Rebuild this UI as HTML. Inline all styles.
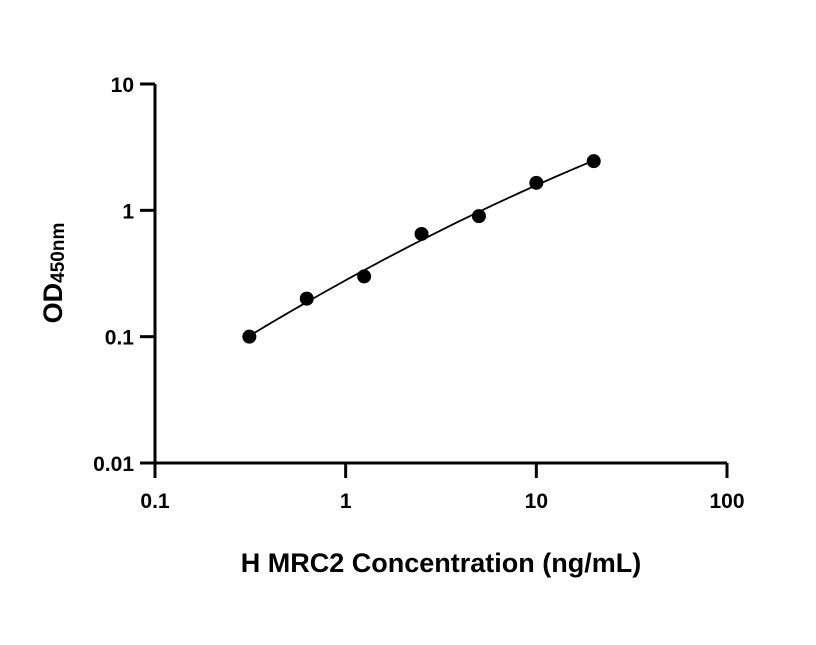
<!DOCTYPE html>
<html><head><meta charset="utf-8"><style>
body{margin:0;background:#fff;width:816px;height:640px;overflow:hidden}
text{font-family:"Liberation Sans",sans-serif;font-weight:bold;fill:#000}
</style></head><body>
<svg id="chart" width="816" height="640" viewBox="0 0 816 640" xmlns="http://www.w3.org/2000/svg">
<g id="axes"></g>
<g id="marks"></g>
<text x="441" y="572" font-size="27" text-anchor="middle">H MRC2 Concentration (ng/mL)</text>
<text transform="translate(62,273) rotate(-90)" font-size="27" text-anchor="middle">OD<tspan font-size="19" dy="2">450nm</tspan></text>
</svg>
<script>
const concentrations = [0.3125, 0.625, 1.25, 2.5, 5, 10, 20];
const odValues = [0.1, 0.2, 0.3, 0.65, 0.9, 1.65, 2.45];
const xTicks = [0.1, 1, 10, 100];
const xTickLabels = ["0.1", "1", "10", "100"];
const yTicks = [0.01, 0.1, 1, 10];
const yTickLabels = ["0.01", "0.1", "1", "10"];

const NS = "http://www.w3.org/2000/svg";
const X0 = 155, X1 = 727, Y0 = 463, Y1 = 84;
function xs(v){ return X0 + (Math.log10(v) - Math.log10(0.1)) / 3 * (X1 - X0); }
function ys(v){ return Y0 - (Math.log10(v) - Math.log10(0.01)) / 3 * (Y0 - Y1); }
function mk(tag, attrs, parent){ const e = document.createElementNS(NS, tag); for (const k in attrs) e.setAttribute(k, attrs[k]); parent.appendChild(e); return e; }
const axes = document.getElementById('axes'), marks = document.getElementById('marks');

const xl = mk('line', {x1: X0, y1: Y0, x2: X1, y2: Y0, stroke: '#000', 'stroke-width': 3}, axes);


const yl = mk('line', {x1: X0, y1: Y0, x2: X0, y2: Y1, stroke: '#000', 'stroke-width': 3}, axes);



xTicks.forEach((t, i) => {
  const x = xs(t);
  const tk = mk('line', {x1: x, y1: Y0, x2: x, y2: Y0 + 15, stroke: '#000', 'stroke-width': 3}, axes);
  
  
  const lb = mk('text', {x: x, y: 508, 'font-size': 21, 'text-anchor': 'middle'}, axes);
  lb.textContent = xTickLabels[i];
  
  
});
yTicks.forEach((t, i) => {
  const y = ys(t);
  const tk = mk('line', {x1: X0, y1: y, x2: X0 - 15, y2: y, stroke: '#000', 'stroke-width': 3}, axes);
  
  
  const lb = mk('text', {x: 134, y: y + 8, 'font-size': 21, 'text-anchor': 'end'}, axes);
  lb.textContent = yTickLabels[i];
  
  
});

// quadratic least-squares fit in log-log space
const lx = concentrations.map(Math.log10), ly = odValues.map(Math.log10);
const n = lx.length;
let S = [[0,0,0],[0,0,0],[0,0,0]], B = [0,0,0];
for (let i = 0; i < n; i++) {
  const p = [1, lx[i], lx[i] * lx[i]];
  for (let a = 0; a < 3; a++) { B[a] += p[a] * ly[i]; for (let b = 0; b < 3; b++) S[a][b] += p[a] * p[b]; }
}
function solve(A, b){
  A = A.map(r => r.slice()); b = b.slice();
  for (let i = 0; i < 3; i++) {
    for (let j = i + 1; j < 3; j++) {
      const f = A[j][i] / A[i][i];
      for (let k = i; k < 3; k++) A[j][k] -= f * A[i][k];
      b[j] -= f * b[i];
    }
  }
  const x = [0,0,0];
  for (let i = 2; i >= 0; i--) { let s = b[i]; for (let k = i + 1; k < 3; k++) s -= A[i][k] * x[k]; x[i] = s / A[i][i]; }
  return x;
}
const c = solve(S, B);
let d = '';
const a0 = lx[0], a1 = lx[n - 1];
for (let i = 0; i <= 60; i++) {
  const u = a0 + (a1 - a0) * i / 60;
  const v = c[0] + c[1] * u + c[2] * u * u;
  d += (i ? 'L' : 'M') + xs(Math.pow(10, u)).toFixed(2) + ',' + ys(Math.pow(10, v)).toFixed(2);
}
const curve = mk('path', {d: d, fill: 'none', stroke: '#000', 'stroke-width': 1.8}, marks);



concentrations.forEach((cv, i) => {
  const pt = mk('circle', {cx: xs(cv), cy: ys(odValues[i]), r: 7, fill: '#000'}, marks);
  
  
});
</script>
</body></html>
